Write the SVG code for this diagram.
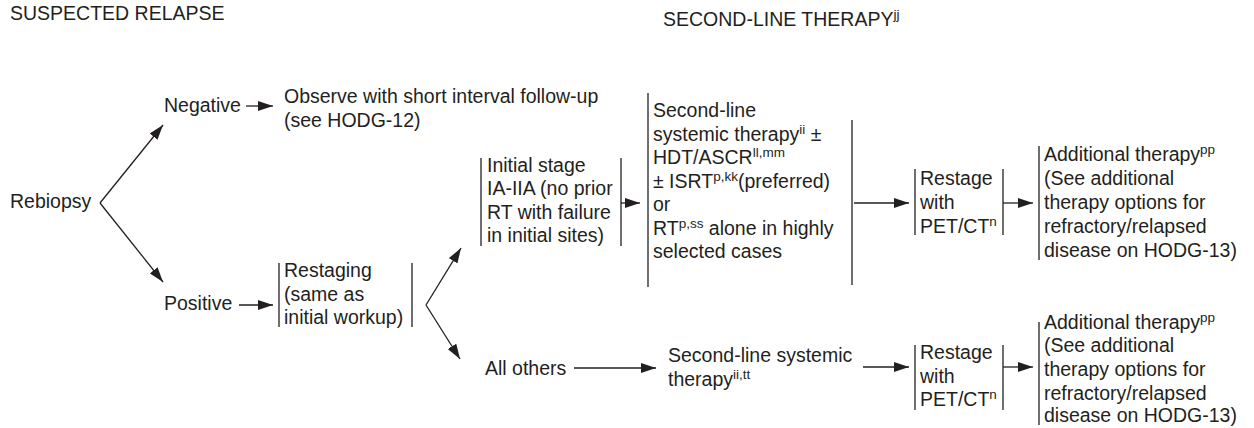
<svg xmlns="http://www.w3.org/2000/svg" width="1254" height="428" viewBox="0 0 1254 428">
<style>
text{font-family:"Liberation Sans",Arial,sans-serif;font-size:19.5px;fill:#231f20}
.sup{font-size:13.5px}
.ln{stroke:#231f20;stroke-width:1.3;fill:none}
.ar{stroke:#231f20;stroke-width:1.3;fill:none;marker-end:url(#ah)}
</style>
<defs>
<marker id="ah" viewBox="0 0 15 10" refX="15" refY="5" markerWidth="15" markerHeight="10" markerUnits="userSpaceOnUse" orient="auto">
<path d="M0,0 L15,5 L0,10 z" fill="#231f20"/>
</marker>
</defs>
<g id="headers">
<text x="10" y="20">SUSPECTED RELAPSE</text>
<text x="663" y="26">SECOND-LINE THERAPY<tspan class="sup" dy="-7">jj</tspan></text>
</g>
<g id="rebiopsy"><text x="10" y="208">Rebiopsy</text></g>
<g id="negative"><text x="164" y="112">Negative</text></g>
<g id="observe">
<text x="284" y="103">Observe with short interval follow-up</text>
<text x="284" y="126.5">(see HODG-12)</text>
</g>
<g id="positive"><text x="164" y="310">Positive</text></g>
<g id="restaging">
<line class="ln" x1="279" y1="263" x2="279" y2="327"/>
<line class="ln" x1="412" y1="263" x2="412" y2="327"/>
<text x="284" y="277">Restaging</text>
<text x="284" y="300.5">(same as</text>
<text x="284" y="324">initial workup)</text>
</g>
<g id="initial-stage">
<line class="ln" x1="481" y1="158" x2="481" y2="246"/>
<line class="ln" x1="621" y1="158" x2="621" y2="246"/>
<text x="487" y="172">Initial stage</text>
<text x="487" y="195.3">IA-IIA (no prior</text>
<text x="487" y="218.6">RT with failure</text>
<text x="487" y="242">in initial sites)</text>
</g>
<g id="second-line-top">
<line class="ln" x1="648" y1="93" x2="648" y2="287"/>
<line class="ln" x1="852" y1="120" x2="852" y2="285"/>
<text x="653" y="117">Second-line</text>
<text x="653" y="140.5">systemic therapy<tspan class="sup" dy="-7">ii</tspan><tspan dy="7"> ±</tspan></text>
<text x="653" y="164">HDT/ASCR<tspan class="sup" dy="-7">ll,mm</tspan></text>
<text x="653" y="187.5">± ISRT<tspan class="sup" dy="-7">p,kk</tspan><tspan dy="7">(preferred)</tspan></text>
<text x="653" y="211">or</text>
<text x="653" y="234.5">RT<tspan class="sup" dy="-7">p,ss</tspan><tspan dy="7"> alone in highly</tspan></text>
<text x="653" y="258">selected cases</text>
</g>
<g id="restage-top">
<line class="ln" x1="915" y1="169" x2="915" y2="235"/>
<line class="ln" x1="1003" y1="169" x2="1003" y2="235"/>
<text x="920" y="185">Restage</text>
<text x="920" y="209">with</text>
<text x="920" y="233">PET/CT<tspan class="sup" dy="-7">n</tspan></text>
</g>
<g id="additional-top">
<line class="ln" x1="1039" y1="146" x2="1039" y2="260"/>
<text x="1044" y="160.5">Additional therapy<tspan class="sup" dy="-7">pp</tspan></text>
<text x="1044" y="184.5">(See additional</text>
<text x="1044" y="208.5">therapy options for</text>
<text x="1044" y="232.5">refractory/relapsed</text>
<text x="1044" y="257">disease on HODG-13)</text>
</g>
<g id="all-others"><text x="485" y="375">All others</text></g>
<g id="second-line-bottom">
<text x="668" y="362">Second-line systemic</text>
<text x="668" y="385.5">therapy<tspan class="sup" dy="-7">ii,tt</tspan></text>
</g>
<g id="restage-bottom">
<line class="ln" x1="915" y1="345" x2="915" y2="410"/>
<line class="ln" x1="1003" y1="345" x2="1003" y2="410"/>
<text x="920" y="358.5">Restage</text>
<text x="920" y="382.5">with</text>
<text x="920" y="406">PET/CT<tspan class="sup" dy="-7">n</tspan></text>
</g>
<g id="additional-bottom">
<line class="ln" x1="1039" y1="322" x2="1039" y2="425"/>
<text x="1044" y="328.5">Additional therapy<tspan class="sup" dy="-7">pp</tspan></text>
<text x="1044" y="352">(See additional</text>
<text x="1044" y="376">therapy options for</text>
<text x="1044" y="400">refractory/relapsed</text>
<text x="1044" y="422">disease on HODG-13)</text>
</g>
<g id="connectors">
<line class="ar" x1="100" y1="203" x2="163" y2="125"/>
<line class="ar" x1="100" y1="203" x2="163" y2="282"/>
<line class="ar" x1="246" y1="106" x2="273" y2="106"/>
<line class="ar" x1="239" y1="305" x2="273" y2="305"/>
<line class="ar" x1="426" y1="305" x2="461" y2="248"/>
<line class="ar" x1="426" y1="305" x2="460" y2="359"/>
<line class="ar" x1="621" y1="203" x2="640" y2="203"/>
<line class="ar" x1="854" y1="203" x2="909" y2="203"/>
<line class="ar" x1="1003" y1="203" x2="1033" y2="203"/>
<line class="ar" x1="574" y1="368" x2="656" y2="368"/>
<line class="ar" x1="863" y1="367" x2="909" y2="367"/>
<line class="ar" x1="1003" y1="367" x2="1033" y2="367"/>
</g>
</svg>
